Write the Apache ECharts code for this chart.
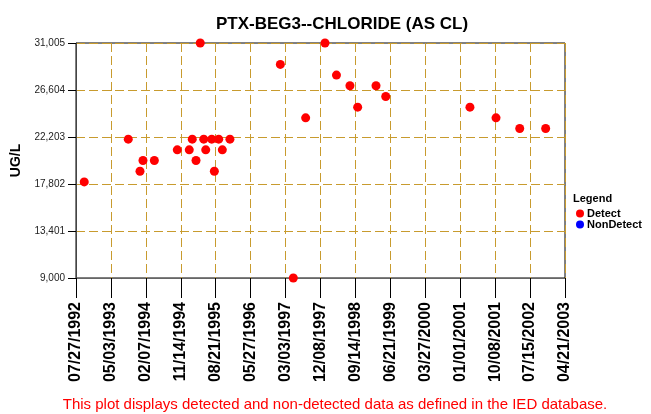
<!DOCTYPE html>
<html><head><meta charset="utf-8">
<script src="https://cdn.jsdelivr.net/npm/echarts@6/dist/echarts.min.js"></script>
<style>html,body{margin:0;padding:0;background:#fff}#c{width:651px;height:414px}</style>
</head><body><div id="c"></div>
<script>
var title = 'PTX-BEG3--CHLORIDE (AS CL)';
var yName = 'UG/L';
var footnote = 'This plot displays detected and non-detected data as defined in the IED database.';
var xTickStart = '1992-07-27';
var xTickStepDays = 280;
var xTickCount = 15;
var yTicks = [9000, 13401, 17802, 22203, 26604, 31005];
var detectDates = ['1992-10-01','1993-09-19','1993-12-22','1994-01-15','1994-04-16','1994-10-17','1995-01-21','1995-02-14','1995-03-16','1995-04-19','1995-05-17','1995-06-02','1995-07-20','1995-08-10','1995-09-14','1995-10-13','1995-12-13','1997-01-20','1997-05-04','1997-08-11','1998-01-13','1998-04-15','1998-08-01','1998-10-02','1999-02-26','1999-05-15','2001-03-20','2001-10-15','2002-04-23','2002-11-17'];
var detectValues = [18000,22000,19000,20000,20000,21000,21000,22000,20000,31000,22000,21000,22000,19000,22000,21000,22000,29000,9000,24000,31000,28000,27000,25000,27000,26000,25000,24000,23000,23000];
var nonDetectDates = [];
var nonDetectValues = [];

var DAY = 86400000;
function parseD(s){var p=s.split('-');return Date.UTC(+p[0],+p[1]-1,+p[2]);}
var t0 = parseD(xTickStart);
function dayOff(s){return Math.round((parseD(s)-t0)/DAY);}
function pad(n){return (n<10?'0':'')+n;}
function fmtDate(v){var d=new Date(t0+v*DAY);return pad(d.getUTCMonth()+1)+'/'+pad(d.getUTCDate())+'/'+d.getUTCFullYear();}
var yBase = yTicks[0];
var yStep = yTicks[1]-yTicks[0];
function fmtNum(v){return Math.round(v).toString().replace(/\B(?=(\d{3})+(?!\d))/g, ',');}
function build(ds, vs){return ds.map(function(d,i){return [dayOff(d), vs[i]-yBase];});}

var FF = 'Liberation Sans, Arial, sans-serif';
var chart = echarts.init(document.getElementById('c'), null, {renderer:'canvas'});
var gridColor = '#C89B2E';
chart.setOption({
  animation:false,
  backgroundColor:'#fff',
  textStyle:{fontFamily:FF},
  title:{text:title,left:337,textAlign:'center',top:11,textStyle:{fontSize:17,fontWeight:'bold',color:'#000',fontFamily:FF}},
  grid:{left:76,right:86,top:43,bottom:136,show:true,borderColor:'#000',borderWidth:1,backgroundColor:'transparent'},
  legend:{orient:'vertical',left:576,top:208,padding:0,itemGap:0,itemWidth:8,itemHeight:8,icon:'circle',
    textStyle:{fontSize:11,fontWeight:'bold',color:'#000',lineHeight:11,padding:[0,0,0,-2]},
    data:['Detect','NonDetect']},
  graphic:[
    {type:'text',left:573,top:193,style:{text:'Legend',font:'bold 11px '+FF,fill:'#000'}},
    {type:'text',x:335,y:397,style:{text:footnote,font:'15px '+FF,fill:'#FF0000',textAlign:'center',textVerticalAlign:'top'}}
  ],
  xAxis:{type:'value',min:0,max:xTickStepDays*(xTickCount-1),interval:xTickStepDays,
    axisLine:{onZero:false,lineStyle:{color:'#666',width:1}},
    axisTick:{show:true,length:20,lineStyle:{color:'#000'}},
    axisLabel:{rotate:90,margin:24,fontSize:16,fontWeight:'bold',color:'#000',formatter:fmtDate,showMinLabel:true,showMaxLabel:true},
    splitLine:{show:true,lineStyle:{color:gridColor,type:[9,4],width:1}}},
  yAxis:{type:'value',min:0,max:yTicks[yTicks.length-1]-yBase,interval:yStep,
    name:yName,nameLocation:'middle',nameGap:48,nameTextStyle:{fontSize:14,fontWeight:'bold',color:'#000'},
    axisLine:{onZero:false,lineStyle:{color:'#444',width:1}},
    axisTick:{show:true,length:8,lineStyle:{color:'#000'}},
    axisLabel:{fontSize:10,color:'#222',margin:11,formatter:function(v){return fmtNum(v+yBase);}},
    splitLine:{show:true,lineStyle:{color:gridColor,type:[9,4],width:1}}},
  series:[
    {name:'Detect',type:'scatter',symbol:'circle',symbolSize:9,itemStyle:{color:'#FF0000',opacity:1},data:build(detectDates,detectValues),clip:true},
    {name:'NonDetect',type:'scatter',symbol:'circle',symbolSize:9,itemStyle:{color:'#0000FF',opacity:1},data:build(nonDetectDates,nonDetectValues),clip:true}
  ]
});
</script></body></html>
